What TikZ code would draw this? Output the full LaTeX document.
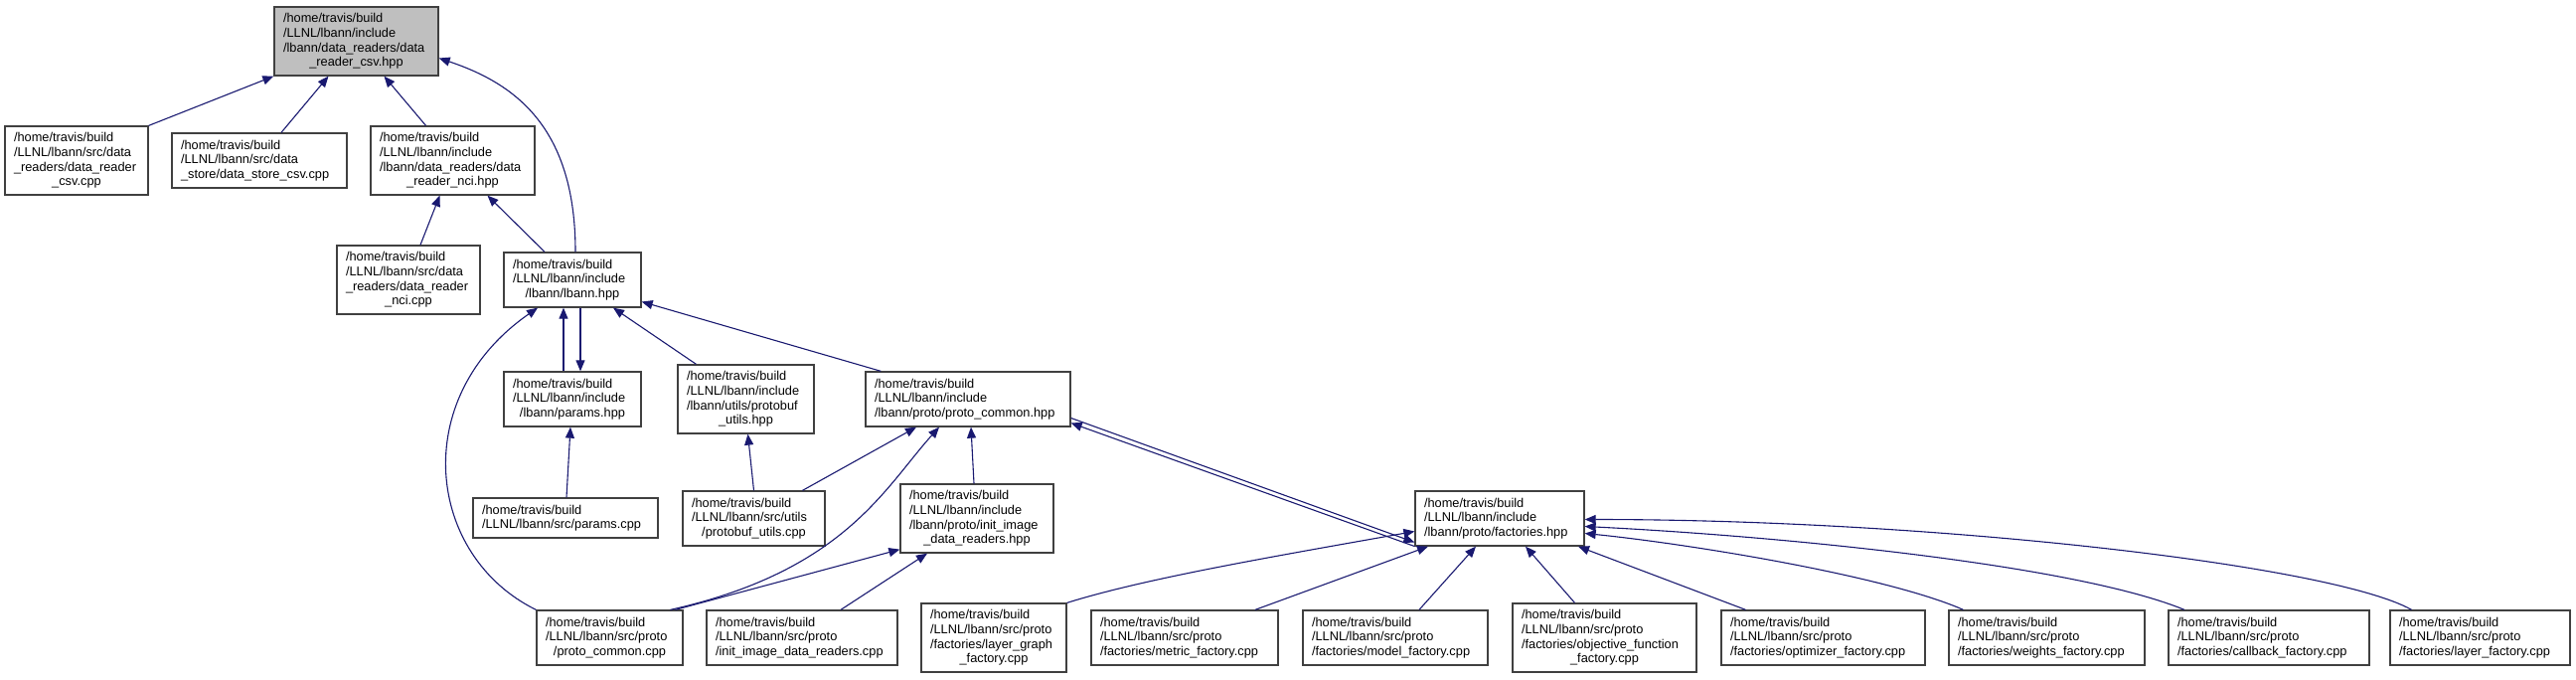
\documentclass[tikz,border=0pt]{standalone}
\usepackage{fontspec}
\setmainfont{Liberation Sans}
\usetikzlibrary{arrows.meta}

\definecolor{edgeblue}{HTML}{191970}
\definecolor{boxline}{HTML}{404040}
\definecolor{rootgray}{HTML}{BFBFBF}
\newcommand\lastln[1]{\hspace*{\fill}#1\hspace*{\fill}\null}
\hyphenpenalty=10000

\begin{document}
\begin{tikzpicture}[
  x=1pt, y=-1pt,
  >={Triangle[length=11pt,width=9pt]},
  font=\fontsize{12.8pt}{14.6pt}\selectfont,
  incl/.style 2 args={draw=boxline, line width=1.3pt, fill=white,
             align=flush left, text width=#1pt, minimum height=#2pt,
             inner xsep=9pt, inner ysep=0pt},
  dep/.style={->, draw=edgeblue, line width=1.1pt},
]
  \useasboundingbox (0,0) rectangle (2592,683);
  % rank 0
  \node[incl={147}{69}, fill=rootgray] (root) at (358.5,41.5)
    {/home/travis/build\\/LLNL/lbann/include\\/lbann/data\_readers/data\\\lastln{\_reader\_csv.hpp}};
  % rank 1
  \node[incl={126}{69}] (csvcpp) at (77,161.5)
    {/home/travis/build\\/LLNL/lbann/src/data\\\_readers/data\_reader\\\lastln{\_csv.cpp}};
  \node[incl={158}{55}] (storecpp) at (261,161.5)
    {/home/travis/build\\/LLNL/lbann/src/data\\\_store/data\_store\_csv.cpp};
  \node[incl={147}{69}] (ncihpp) at (455.5,161.5)
    {/home/travis/build\\/LLNL/lbann/include\\/lbann/data\_readers/data\\\lastln{\_reader\_nci.hpp}};
  % rank 2
  \node[incl={126}{69}] (ncicpp) at (411,281.5)
    {/home/travis/build\\/LLNL/lbann/src/data\\\_readers/data\_reader\\\lastln{\_nci.cpp}};
  \node[incl={120}{55}] (lbannhpp) at (576,281.5)
    {/home/travis/build\\/LLNL/lbann/include\\\lastln{/lbann/lbann.hpp}};
  % rank 3
  \node[incl={120}{55}] (paramshpp) at (576,401.5)
    {/home/travis/build\\/LLNL/lbann/include\\\lastln{/lbann/params.hpp}};
  \node[incl={119}{69}] (pbhpp) at (750.5,401.5)
    {/home/travis/build\\/LLNL/lbann/include\\/lbann/utils/protobuf\\\lastln{\_utils.hpp}};
  \node[incl={188}{55}] (pchpp) at (974,401.5)
    {/home/travis/build\\/LLNL/lbann/include\\/lbann/proto/proto\_common.hpp};
  % rank 4
  \node[incl={168}{40}] (paramscpp) at (569,521)
    {/home/travis/build\\/LLNL/lbann/src/params.cpp};
  \node[incl={125}{55}] (pbcpp) at (758.5,521.5)
    {/home/travis/build\\/LLNL/lbann/src/utils\\\lastln{/protobuf\_utils.cpp}};
  \node[incl={136}{69}] (iihpp) at (983,521.5)
    {/home/travis/build\\/LLNL/lbann/include\\/lbann/proto/init\_image\\\lastln{\_data\_readers.hpp}};
  \node[incl={152}{55}] (facthpp) at (1509,521.5)
    {/home/travis/build\\/LLNL/lbann/include\\/lbann/proto/factories.hpp};
  % rank 5
  \node[incl={129}{55}] (pccpp) at (613.5,641.5)
    {/home/travis/build\\/LLNL/lbann/src/proto\\\lastln{/proto\_common.cpp}};
  \node[incl={174}{55}] (iicpp) at (807,641.5)
    {/home/travis/build\\/LLNL/lbann/src/proto\\/init\_image\_data\_readers.cpp};
  \node[incl={128}{69}] (lgcpp) at (1000,641.5)
    {/home/travis/build\\/LLNL/lbann/src/proto\\/factories/layer\_graph\\\lastln{\_factory.cpp}};
  \node[incl={170}{55}] (metriccpp) at (1192,641.5)
    {/home/travis/build\\/LLNL/lbann/src/proto\\/factories/metric\_factory.cpp};
  \node[incl={168}{55}] (modelcpp) at (1404,641.5)
    {/home/travis/build\\/LLNL/lbann/src/proto\\/factories/model\_factory.cpp};
  \node[incl={167}{69}] (objcpp) at (1614.5,641.5)
    {/home/travis/build\\/LLNL/lbann/src/proto\\/factories/objective\_function\\\lastln{\_factory.cpp}};
  \node[incl={187}{55}] (optcpp) at (1834.5,641.5)
    {/home/travis/build\\/LLNL/lbann/src/proto\\/factories/optimizer\_factory.cpp};
  \node[incl={179}{55}] (weightscpp) at (2059.5,641.5)
    {/home/travis/build\\/LLNL/lbann/src/proto\\/factories/weights\_factory.cpp};
  \node[incl={184}{55}] (callbackcpp) at (2283,641.5)
    {/home/travis/build\\/LLNL/lbann/src/proto\\/factories/callback\_factory.cpp};
  \node[incl={163}{55}] (layercpp) at (2495.5,641.5)
    {/home/travis/build\\/LLNL/lbann/src/proto\\/factories/layer\_factory.cpp};

  % includes of data_reader_csv.hpp
  \draw[dep] (csvcpp.north east) -- (root.south west);
  \draw[dep] ([xshift=22]storecpp.north) -- ([xshift=-28]root.south);
  \draw[dep] ([xshift=-27]ncihpp.north) -- ([xshift=28]root.south);
  \draw[dep] ([xshift=3]lbannhpp.north) .. controls +(0,-124) and +(78,26) .. ([yshift=-17]root.east);
  \draw[dep] ([xshift=12]ncicpp.north) -- ([xshift=-13]ncihpp.south);
  \draw[dep] ([xshift=-28]lbannhpp.north) -- ([xshift=35]ncihpp.south);
  % lbann.hpp
  \draw[dep] ([xshift=-9]paramshpp.north) -- ([xshift=-9]lbannhpp.south);
  \draw[dep] ([xshift=8]lbannhpp.south) -- ([xshift=8]paramshpp.north);
  \draw[dep] ([xshift=-50]pbhpp.north) -- ([xshift=41]lbannhpp.south);
  \draw[dep] ([xshift=16]pchpp.north west) -- ([yshift=-22]lbannhpp.east);
  \draw[dep] (pccpp.north west) .. controls +(-110,-54) and +(-131,91) .. ([xshift=-35]lbannhpp.south);
  \draw[dep] ([xshift=1]paramscpp.north) -- ([xshift=-2]paramshpp.south);
  \draw[dep] (pbcpp.north) -- ([xshift=2]pbhpp.south);
  % proto_common.hpp
  \draw[dep] ([xshift=49]pbcpp.north) -- ([xshift=-52]pchpp.south);
  \draw[dep] ([xshift=61]pccpp.north) .. controls +(175,-39) and +(-55,61) .. ([xshift=-29]pchpp.south);
  \draw[dep] ([xshift=-3]iihpp.north) -- ([xshift=3]pchpp.south);
  \draw[dep] ([xshift=66]pccpp.north) -- ([yshift=4]iihpp.south west);
  \draw[dep] ([xshift=39]iicpp.north) -- ([xshift=-50]iihpp.south);
  \draw[dep] ([yshift=-19]pchpp.east) -- ([yshift=-24]facthpp.west);
  \draw[dep] ([yshift=-28]facthpp.west) -- ([yshift=-24]pchpp.east);
  % factories.hpp
  \draw[dep] (lgcpp.north east) .. controls +(80,-25) and +(-140,25) .. ([yshift=-13]facthpp.west);
  \draw[dep] ([xshift=71]metriccpp.north) -- ([xshift=-72]facthpp.south);
  \draw[dep] ([xshift=24]modelcpp.north) -- ([xshift=-24]facthpp.south);
  \draw[dep] ([xshift=-30]objcpp.north) -- ([xshift=26]facthpp.south);
  \draw[dep] ([xshift=-78]optcpp.north) -- ([xshift=79]facthpp.south);
  \draw[dep] ([xshift=-84]weightscpp.north) .. controls +(-80,-35) and +(100,10) .. ([yshift=-15]facthpp.east);
  \draw[dep] ([xshift=-85]callbackcpp.north) .. controls +(-110,-45) and +(200,10) .. ([yshift=-8]facthpp.east);
  \draw[dep] ([xshift=-69]layercpp.north) .. controls +(-80,-45) and +(350,0) .. ([yshift=-1]facthpp.east);
\end{tikzpicture}
\end{document}
